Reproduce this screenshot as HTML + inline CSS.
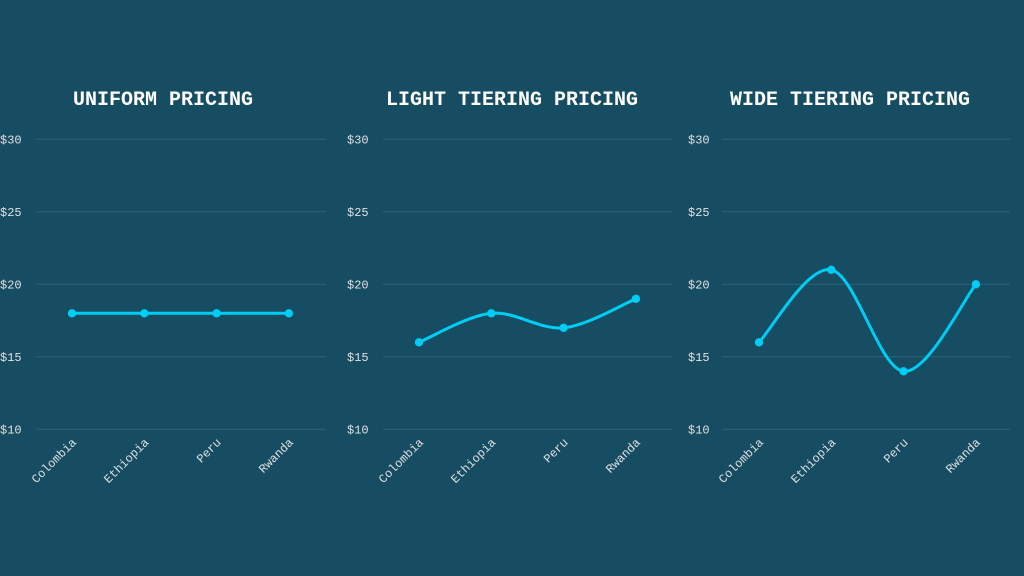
<!DOCTYPE html>
<html><head><meta charset="utf-8"><style>
body{margin:0;background:#164d63;width:1024px;height:576px;overflow:hidden}
svg{display:block}
text{font-family:"Liberation Mono",monospace}
</style></head><body>
<svg id="c" width="1024" height="576"></svg>
<script>
const categories=["Colombia","Ethiopia","Peru","Rwanda"];
const uniformValues=[18,18,18,18];
const lightValues=[16,18,17,19];
const wideValues=[16,21,14,20];
const titles=["UNIFORM PRICING","LIGHT TIERING PRICING","WIDE TIERING PRICING"];
const yTicks=[10,15,20,25,30];
const tickLabels=["$10","$15","$20","$25","$30"];
const series=[uniformValues,lightValues,wideValues];
const panels=[{lab:0,g0:36,g1:326,x0:72,step:72.3,cx:163},{lab:347,g0:383,g1:672,x0:419,step:72.3,cx:512},{lab:688,g0:722,g1:1010,x0:759,step:72.3,cx:850}];
const NS="http://www.w3.org/2000/svg";
const svg=document.getElementById('c');
function y(v){return 429.3-(v-10)*14.5;}
function mk(t,a,p){const e=document.createElementNS(NS,t);for(const k in a)e.setAttribute(k,a[k]);(p||svg).appendChild(e);return e;}
panels.forEach((p,i)=>{
  const g=mk('g',{});
  
  
  const t=mk('text',{x:p.cx,y:105,'text-anchor':'middle','font-size':20,'font-weight':'bold',fill:'#ffffff'},g);
  t.textContent=titles[i];
  
  
  yTicks.forEach((v,j)=>{
    const l=mk('line',{x1:p.g0,x2:p.g1,y1:y(v),y2:y(v),stroke:'#2a6479','stroke-width':1},g);
    
    
    const tl=mk('text',{x:p.lab,y:y(v)+4,'font-size':12,fill:'#e0e0e0'},g);
    tl.textContent=tickLabels[j];
    
    
  });
  const vals=series[i];
  const pts=vals.map((v,k)=>[p.x0+k*p.step,y(v)]);
  let d='M'+pts[0][0]+','+pts[0][1];
  for(let k=0;k<pts.length-1;k++){
    const p0=pts[k-1]||pts[k],p1=pts[k],p2=pts[k+1],p3=pts[k+2]||p2;
    const c1=[p1[0]+(p2[0]-p0[0])/6,p1[1]+(p2[1]-p0[1])/6];
    const c2=[p2[0]-(p3[0]-p1[0])/6,p2[1]-(p3[1]-p1[1])/6];
    d+=' C'+c1+' '+c2+' '+p2;
  }
  const path=mk('path',{d:d,fill:'none',stroke:'#00cdf3','stroke-width':3},g);
  
  
  pts.forEach((q,k)=>{
    const c=mk('circle',{cx:q[0],cy:q[1],r:4.2,fill:'#00cdf3'},g);
    
    
    const xl=mk('text',{x:q[0]+5,y:443,'font-size':12,fill:'#e0e0e0','text-anchor':'end',transform:'rotate(-45 '+(q[0]+5)+' 443)'},g);
    xl.textContent=categories[k];
    
    
  });
});
</script>
</body></html>
